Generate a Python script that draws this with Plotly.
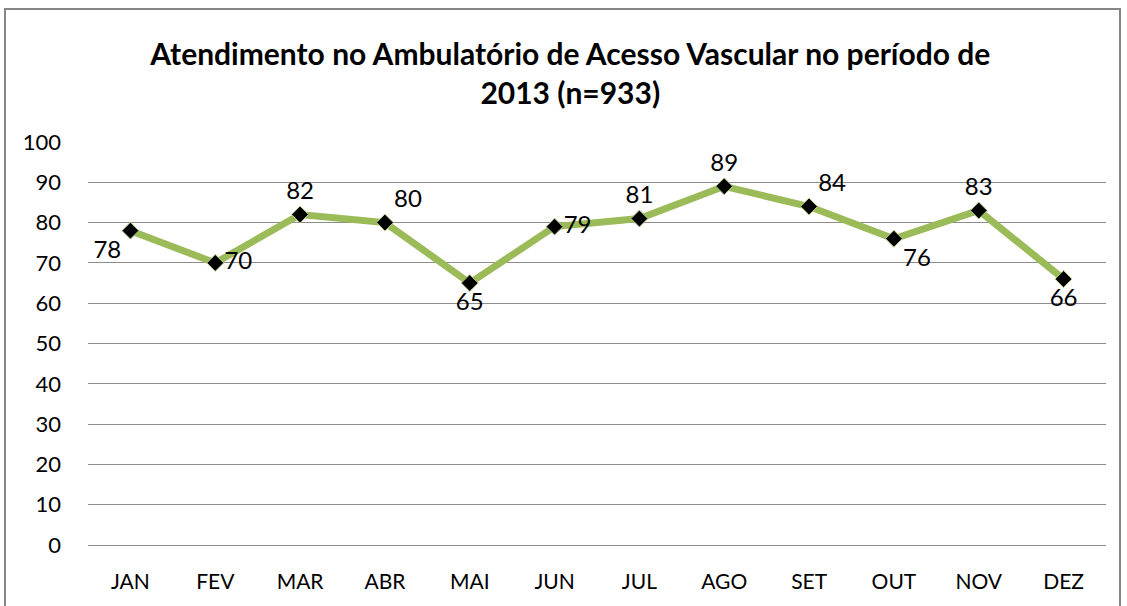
import plotly.graph_objects as go

months = ["JAN", "FEV", "MAR", "ABR", "MAI", "JUN", "JUL", "AGO", "SET", "OUT", "NOV", "DEZ"]
values = [78, 70, 82, 80, 65, 79, 81, 89, 84, 76, 83, 66]
label_pos = ["bottom left", "middle right", "top center", "top right", "bottom center",
             "middle right", "top center", "top center", "top right", "bottom right",
             "top center", "bottom center"]
y_ticks = [0, 10, 20, 30, 40, 50, 60, 70, 80, 90, 100]

FONT = "Lato"

fig = go.Figure()
fig.add_trace(go.Scatter(
    x=months, y=values,
    mode="lines+markers+text",
    line=dict(color="#9BBB59", width=7),
    marker=dict(symbol="diamond", color="black", size=13,
                line=dict(color="#B5CF86", width=1)),
    text=[str(v) for v in values],
    textposition=label_pos,
    textfont=dict(family=FONT, size=24, color="black"),
    cliponaxis=False,
    hoverinfo="x+y",
))

fig.update_layout(
    width=1127, height=606,
    margin=dict(l=88, r=21, t=142, b=61),
    paper_bgcolor="white", plot_bgcolor="white",
    showlegend=False,
    title=dict(
        text="<b>Atendimento no Ambulatório de Acesso Vascular no período de<br>2013 (n=933)</b>",
        x=0.506, xanchor="center", y=0.892, yanchor="top",
        font=dict(family=FONT, size=30, color="black"),
    ),
    xaxis=dict(
        type="category", range=[-0.5, len(months) - 0.5],
        showgrid=False, zeroline=False, showline=False,
        tickfont=dict(family=FONT, size=21, color="black"),
        ticklabelstandoff=22, ticks="",
    ),
    yaxis=dict(
        range=[0, 100], tickvals=y_ticks, showgrid=True, gridcolor="#8c8c8c", gridwidth=1,
        zeroline=True, zerolinecolor="#8c8c8c", zerolinewidth=1, showline=False,
        tickfont=dict(family=FONT, size=22, color="black"),
        ticklabelstandoff=26, ticks="",
    ),
    shapes=[dict(type="rect", xref="paper", yref="paper",
                 x0=(5 - 88) / 1018, x1=(1120 - 88) / 1018,
                 y0=(545 - 620) / 403, y1=(545 - 9) / 403,
                 line=dict(color="#868686", width=2), fillcolor="rgba(0,0,0,0)", layer="below")],
)

fig.write_html("out.html", config={"displayModeBar": False},
               post_script="document.body.style.margin='0';document.body.style.overflow='hidden';")
